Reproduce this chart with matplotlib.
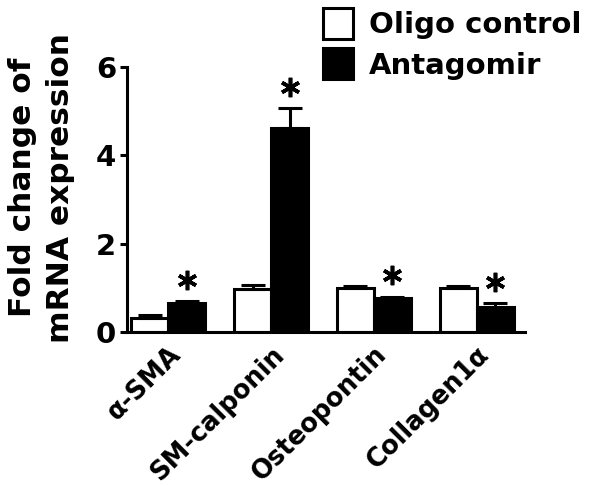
import numpy as np
import matplotlib
matplotlib.use('Agg')
import matplotlib.pyplot as plt
import matplotlib.transforms as mtransforms

plt.rcParams['font.family'] = ['DejaVu Sans']
plt.rcParams['font.weight'] = 'bold'

genes = ['α-SMA', 'SM-calponin', 'Osteopontin', 'Collagen1α']
control = [0.32, 0.97, 0.99, 0.99]
control_err = [0.07, 0.10, 0.06, 0.05]
antagomir = [0.66, 4.62, 0.76, 0.57]
antagomir_err = [0.03, 0.45, 0.04, 0.09]

fig = plt.figure(figsize=(6, 4.86), dpi=100)
ax = fig.add_axes([0.212, 0.317, 0.663, 0.545])

x = np.arange(len(genes))
w = 0.36
ekw = dict(elinewidth=2.2, capsize=8.5, capthick=2.2)
ax.bar(x - w/2, control, w, color='white', edgecolor='black', linewidth=2.2,
       yerr=[np.zeros(4), control_err], error_kw=ekw, label='Oligo control')
ax.bar(x + w/2, antagomir, w, color='black', edgecolor='black', linewidth=2.2,
       yerr=[np.zeros(4), antagomir_err], error_kw=ekw, label='Antagomir')

# significance asterisks above the antagomir bars
star_y = np.array(antagomir) + np.array(antagomir_err) + 0.48
ax.plot(x + w/2, star_y, linestyle='none', marker=(6, 2, 0), markersize=14,
        markeredgewidth=2.6, color='black', clip_on=False)

ax.set_xlim(-0.4, 3.47)
ax.set_ylim(0, 6)
ax.set_yticks([0, 2, 4, 6])
ax.set_xticks(x)
ax.set_xticklabels(genes, rotation=45, ha='right', va='top', rotation_mode='anchor', fontsize=18.5)
shift = mtransforms.ScaledTranslation(0.14, 0, fig.dpi_scale_trans)
for lab in ax.get_xticklabels():
    lab.set_transform(lab.get_transform() + shift)
ax.tick_params(axis='y', labelsize=21, width=2.2, length=5, pad=3)
ax.tick_params(axis='x', length=0, pad=7)
ax.spines['top'].set_visible(False)
ax.spines['right'].set_visible(False)
ax.spines['left'].set_linewidth(2.2)
ax.spines['bottom'].set_linewidth(2.2)
ax.set_ylabel('Fold change of\nmRNA expression', fontsize=22.5, fontweight='bold',
              linespacing=1.4)
ax.yaxis.set_label_coords(-0.131, 0.545)

fig.legend(loc='upper left', bbox_to_anchor=(0.538, 0.984), frameon=False, fontsize=21,
           handlelength=1.03, handleheight=1.25, handletextpad=0.55, labelspacing=0.32,
           borderpad=0, borderaxespad=0)

fig.savefig('out.png', dpi=100)
